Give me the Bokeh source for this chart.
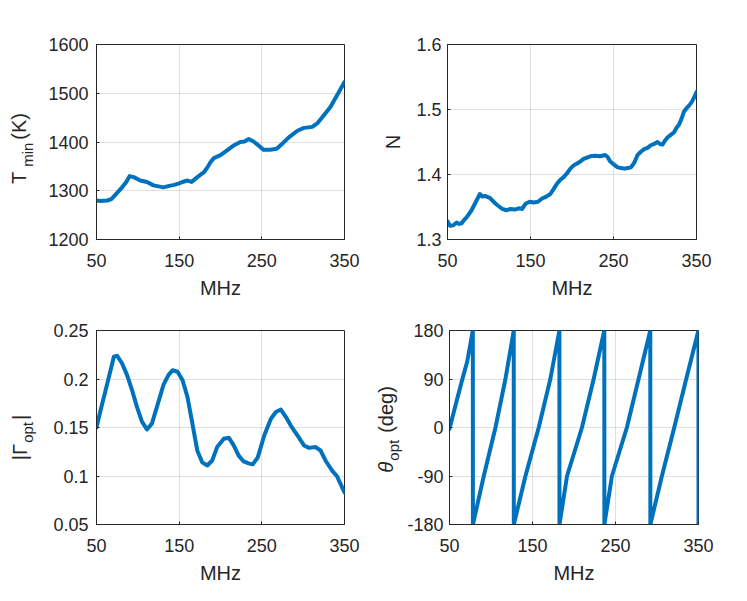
import math
from bokeh.plotting import figure
from bokeh.layouts import column, row
from bokeh.models import FixedTicker, Range1d, Label
from bokeh.embed import file_html
from bokeh.resources import INLINE

# ---------------- data ----------------
x_ticks = [50, 150, 250, 350]
x_tick_labels = ["50", "150", "250", "350"]

freq_T = [50, 55, 63, 68, 73, 81, 86, 90, 95, 103,
          111, 119, 125, 131, 138, 144, 150, 154, 160, 165,
          172, 180, 185, 188, 192, 200, 208, 216, 224, 229,
          234, 240, 246, 252, 260, 268, 275, 283, 293, 301,
          311, 317, 325, 333, 341, 350]
T_min = [1280, 1279, 1280, 1283, 1292, 1307, 1318, 1330, 1328, 1321,
         1318, 1311, 1309, 1307, 1310, 1312, 1315, 1318, 1321, 1318,
         1328, 1338, 1350, 1359, 1367, 1373, 1383, 1393, 1400, 1401,
         1406, 1401, 1393, 1384, 1384, 1386, 1397, 1410, 1423, 1429,
         1431, 1438, 1455, 1472, 1496, 1523]
T_ticks = [1200, 1300, 1400, 1500, 1600]
T_tick_labels = ["1200", "1300", "1400", "1500", "1600"]

freq_N = [50, 53, 57, 61, 64, 67, 70, 73, 79, 85,
          89, 92, 95, 101, 108, 116, 121, 126, 131, 136,
          140, 144, 149, 154, 159, 164, 169, 174, 178, 182,
          186, 190, 194, 198, 202, 206, 210, 214, 218, 222,
          228, 234, 240, 243, 246, 250, 255, 259, 263, 267,
          271, 275, 279, 283, 287, 291, 295, 299, 303, 306,
          309, 312, 315, 319, 323, 326, 329, 332, 335, 338,
          341, 344, 347, 350]
N_val = [1.328, 1.321, 1.322, 1.326, 1.324, 1.325, 1.330, 1.334, 1.345, 1.360,
         1.370, 1.366, 1.367, 1.364, 1.355, 1.347, 1.345, 1.347, 1.346, 1.348,
         1.347, 1.355, 1.358, 1.357, 1.358, 1.363, 1.366, 1.370, 1.378, 1.386,
         1.392, 1.396, 1.402, 1.409, 1.414, 1.417, 1.420, 1.424, 1.426, 1.428,
         1.429, 1.428, 1.430, 1.427, 1.420, 1.416, 1.411, 1.410, 1.409, 1.410,
         1.411, 1.418, 1.430, 1.435, 1.439, 1.441, 1.445, 1.447, 1.450, 1.447,
         1.446, 1.452, 1.457, 1.461, 1.465, 1.472, 1.477, 1.486, 1.497, 1.502,
         1.506, 1.511, 1.518, 1.527]
N_ticks = [1.3, 1.4, 1.5, 1.6]
N_tick_labels = ["1.3", "1.4", "1.5", "1.6"]

freq_G = [50, 55, 61, 67, 71, 75, 81, 87, 93, 99,
          105, 111, 117, 123, 131, 137, 142, 148, 154, 160,
          166, 172, 178, 184, 190, 196, 204, 210, 216, 222,
          228, 234, 239, 245, 253, 261, 267, 273, 279, 285,
          293, 301, 307, 315, 321, 327, 335, 341, 350]
G_opt = [0.150, 0.168, 0.1885, 0.209, 0.223, 0.224, 0.216, 0.204, 0.1885, 0.171,
         0.156, 0.148, 0.154, 0.171, 0.194, 0.204, 0.209, 0.2075, 0.199, 0.1816,
         0.154, 0.126, 0.114, 0.1108, 0.116, 0.130, 0.1384, 0.1395, 0.1315, 0.121,
         0.115, 0.113, 0.112, 0.119, 0.142, 0.159, 0.166, 0.1685, 0.161, 0.152,
         0.142, 0.1315, 0.129, 0.1298, 0.1263, 0.116, 0.1056, 0.0997, 0.083]
G_ticks = [0.05, 0.1, 0.15, 0.2, 0.25]
G_tick_labels = ["0.05", "0.1", "0.15", "0.2", "0.25"]

freq_th = [50, 57.2, 65.2, 71.3, 78.1,
           78.2, 91.3, 105.4, 117.4, 127.4,
           127.5, 141.5, 157.5, 171.5, 182.4,
           182.5, 191.6, 209.6, 223.7, 236.5,
           236.6, 245.7, 263.7, 277.8, 291.9,
           292.0, 305.9, 320.8, 335.2, 349.9,
           350.0]
theta_opt = [-2.5, 41, 88, 122, 180,
             -180, -90, 0, 90, 180,
             -180, -90, 0, 90, 180,
             -180, -90, 0, 90, 180,
             -180, -90, 0, 90, 180,
             -180, -90, 0, 90, 180,
             -180]
th_ticks = [-180, -90, 0, 90, 180]
th_tick_labels = ["-180", "-90", "0", "90", "180"]

# ---------------- styling ----------------
FONT = "Liberation Sans"
TXT = "#262626"
BLUE = "#0072BD"
TICK_PX = "18px"
LABEL_PX = 20
SUB_PX = 15
SUB_DX = 8
LW = 4

CW = {"T": .611, "m": .833, "i": .222, "n": .556, "(": .333, "K": .667, ")": .333,
      "N": .722, "|": .26, "Γ": .556, "o": .556, "p": .556, "t": .278, "θ": .556,
      " ": .278, "d": .556, "e": .556, "g": .556}


def tw(s, size):
    return sum(CW.get(c, .556) for c in s) * size


def make_fig(fw, fh, left, right, top, bottom, yr, yticks, ylabels, ystandoff):
    p = figure(frame_width=fw, frame_height=fh, output_backend="svg", toolbar_location=None,
               title=None, x_range=Range1d(50, 350), y_range=Range1d(*yr),
               min_border_left=left, min_border_right=right,
               min_border_top=top, min_border_bottom=bottom,
               background_fill_color="white", border_fill_color="white")
    p.outline_line_color = TXT
    p.outline_line_width = 1
    p.outline_line_alpha = 1
    p.xaxis.ticker = FixedTicker(ticks=x_ticks)
    p.xaxis.major_label_overrides = dict(zip(x_ticks, x_tick_labels))
    p.yaxis.ticker = FixedTicker(ticks=yticks)
    p.yaxis.major_label_overrides = dict(zip(yticks, ylabels))
    for ax in (p.xaxis[0], p.yaxis[0]):
        ax.axis_line_color = TXT
        ax.major_tick_line_color = TXT
        ax.major_tick_in = 3
        ax.major_tick_out = 0
        ax.minor_tick_line_color = None
        ax.major_label_text_font = FONT
        ax.major_label_text_font_size = TICK_PX
        ax.major_label_text_color = TXT
        ax.axis_label_text_font = FONT
        ax.axis_label_text_font_size = f"{LABEL_PX}px"
        ax.axis_label_text_color = TXT
        ax.axis_label_text_font_style = "normal"
    p.xaxis.major_label_standoff = 14
    p.xaxis.axis_label = "MHz"
    p.xaxis.axis_label_standoff = 7
    p.yaxis.major_label_standoff = ystandoff
    for g in (p.xgrid[0], p.ygrid[0]):
        g.grid_line_color = TXT
        g.grid_line_alpha = 0.15
        g.grid_line_width = 1
    return p


def label_fig(width, height, pieces, xa, yc):
    """Narrow figure (its frame is aligned with the neighbouring plot frame)
    holding a rotated y-axis title with a subscript."""
    f = figure(width=width, height=height, output_backend="svg", toolbar_location=None,
               title=None, x_range=Range1d(0, 1), y_range=Range1d(0, 1),
               x_axis_type=None, y_axis_type=None, min_border=0,
               min_border_left=0, min_border_right=0, min_border_top=0, min_border_bottom=0,
               background_fill_color="white", border_fill_color="white")
    f.outline_line_color = None
    total = sum(gap + tw(t, s) for t, s, dx, gap, st in pieces)
    y = yc - total / 2
    for t, s, dx, gap, st in pieces:
        y += gap
        f.add_layout(Label(x=xa + dx, y=y, x_units="screen", y_units="screen", text=t,
                           angle=math.pi / 2, text_align="left", text_baseline="alphabetic",
                           text_font=FONT, text_font_size=f"{s}px", text_color=TXT,
                           text_font_style=st))
        y += tw(t, s)
    return f


WL, WR = 40, 36
BT, BB = 70, 70
H_TOP = 44 + 195 + BT
H_BOT = 21 + 194 + BB

# top-left: T_min
p1 = make_fig(248, 195, 96 - WL, 24, 44, BT, (1200, 1600), T_ticks, T_tick_labels, 8)
p1.line(freq_T, T_min, line_width=LW, color=BLUE, line_join="round", line_cap="round")
l1 = label_fig(WL, H_TOP, [("T", LABEL_PX, 0, 0, "normal"), ("min", SUB_PX, SUB_DX, 5, "normal"),
                           ("(K)", LABEL_PX, 0, 3, "normal")], 18.7, 91)

# top-right: N
p2 = make_fig(249, 195, 79 - WR, 30, 44, BT, (1.3, 1.6), N_ticks, N_tick_labels, 6)
p2.line(freq_N, N_val, line_width=LW, color=BLUE, line_join="round", line_cap="round")
l2 = label_fig(WR, H_TOP, [("N", LABEL_PX, 0, 0, "normal")], 24, 97.5)

# bottom-left: |Gamma_opt|
p3 = make_fig(248, 194, 96 - WL, 24, 21, BB, (0.05, 0.25), G_ticks, G_tick_labels, 8)
p3.line(freq_G, G_opt, line_width=LW, color=BLUE, line_join="round", line_cap="round")
l3 = label_fig(WL, H_BOT, [("|Γ", LABEL_PX, 0, 0, "normal"), ("opt", SUB_PX, SUB_DX, 1, "normal"),
                           ("|", LABEL_PX, 0, 2, "normal")], 19, 87)

# bottom-right: theta_opt
p4 = make_fig(249, 194, 79 - WR, 30, 21, BB, (-180, 180), th_ticks, th_tick_labels, 6)
p4.line(freq_th, theta_opt, line_width=LW, color=BLUE, line_join="round", line_cap="round")
l4 = label_fig(WR, H_BOT, [("θ", LABEL_PX, 0, 0, "italic"), ("opt", SUB_PX, SUB_DX, 1, "normal"),
                           ("(deg)", LABEL_PX, 0, 7, "normal")], 17, 95)

layout = column(row(l1, p1, l2, p2), row(l3, p3, l4, p4))
open("out.html", "w").write(file_html(layout, INLINE))
